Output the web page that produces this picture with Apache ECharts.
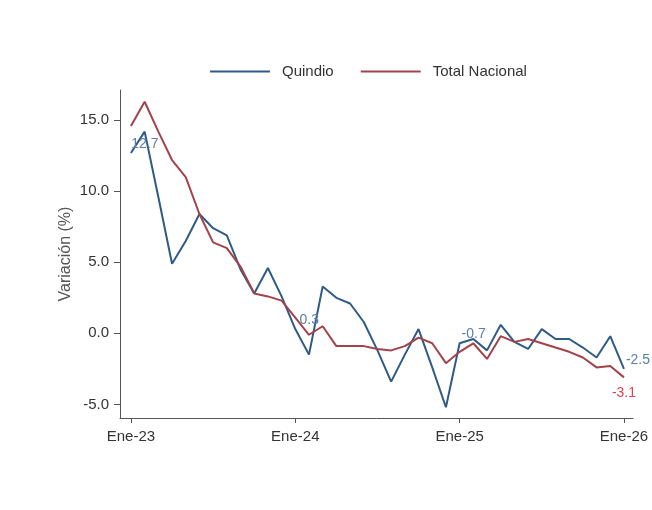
<!DOCTYPE html>
<html>
<head>
<meta charset="utf-8">
<script src="https://cdn.jsdelivr.net/npm/echarts@6/dist/echarts.min.js"></script>
<style>
  html, body { margin: 0; padding: 0; background: #fff; }
  #chart { width: 652px; height: 510px; }
</style>
</head>
<body>
<div id="chart"></div>
<script>
// meses Ene-23 .. Ene-26 (37 puntos)
var tickPos = [0, 12, 24, 36];
var tickLabels = ['Ene-23', 'Ene-24', 'Ene-25', 'Ene-26'];
var yTicks = [-5, 0, 5, 10, 15];

var quindio = [12.7, 14.2, 9.6, 4.9, 6.5, 8.4, 7.4, 6.9, 4.5, 2.8, 4.6, 2.6,
               0.3, -1.5, 3.3, 2.5, 2.1, 0.8, -1.2, -3.4, -1.5, 0.3, -2.4, -5.2,
               -0.7, -0.4, -1.2, 0.6, -0.6, -1.1, 0.3, -0.4, -0.4, -1.0, -1.7, -0.2,
               -2.5];
var nacional = [14.6, 16.3, 14.2, 12.2, 11.0, 8.4, 6.4, 6.0, 4.7, 2.8, 2.6, 2.3,
                1.1, -0.1, 0.5, -0.9, -0.9, -0.9, -1.1, -1.2, -0.9, -0.3, -0.7, -2.1,
                -1.3, -0.7, -1.8, -0.2, -0.6, -0.4, -0.7, -1.0, -1.3, -1.7, -2.4, -2.3,
                -3.1];

var labelsQ = [0, 12, 24, 36];   // puntos con etiqueta (Quindio)
var labelsN = [36];              // puntos con etiqueta (Total)

var colQ = '#2f5b86', colN = '#a3424b';

function toData(arr, marks, lbl) {
  var out = [];
  for (var i = 0; i < arr.length; i++) {
    var d = { value: [i, arr[i]] };
    if (marks.indexOf(i) >= 0) d.label = lbl;
    out.push(d);
  }
  return out;
}

var chart = echarts.init(document.getElementById('chart'));
var axisCol = '#555';
chart.setOption({
  animation: false,
  textStyle: { fontFamily: 'Liberation Sans, Arial, sans-serif' },
  legend: {
    top: 59, left: 205,
    itemWidth: 60, itemHeight: 2, itemGap: 27,
    icon: 'rect',
    textStyle: { fontSize: 15, color: '#333', padding: [0, 0, 0, 7] },
    data: ['Quindio', 'Total Nacional']
  },
  grid: { left: 120, right: 19, top: 90, bottom: 92 },
  xAxis: {
    type: 'value', min: -0.8, max: 36.66,
    splitLine: { show: false },
    axisLine: { onZero: false, lineStyle: { color: axisCol } },
    axisTick: { customValues: tickPos, length: 5, lineStyle: { color: axisCol } },
    axisLabel: {
      customValues: tickPos, color: '#333', fontSize: 15, margin: 11,
      formatter: function (v) { return tickLabels[tickPos.indexOf(Math.round(v))]; }
    }
  },
  yAxis: {
    type: 'value', min: -5.96, max: 17.13,
    name: 'Variación (%)', nameLocation: 'middle', nameGap: 46,
    nameMoveOverlap: false,
    nameTextStyle: { color: '#555', fontSize: 16 },
    splitLine: { show: false },
    axisLine: { show: true, onZero: false, lineStyle: { color: axisCol } },
    axisTick: { show: true, customValues: yTicks, length: 6, lineStyle: { color: axisCol } },
    axisLabel: {
      customValues: yTicks, color: '#333', fontSize: 15, margin: 11,
      formatter: function (v) { return v.toFixed(1); }
    }
  },
  series: [
    {
      name: 'Quindio', type: 'line', symbol: 'circle', symbolSize: 0, showSymbol: true,
      lineStyle: { width: 2, color: colQ }, itemStyle: { color: colQ },
      label: { show: false },
      data: toData(quindio, labelsQ, {
        show: true, position: 'top', offset: [14, 3],
        color: '#5a80aa', fontSize: 14,
        formatter: function (p) { return p.value[1].toFixed(1); }
      })
    },
    {
      name: 'Total Nacional', type: 'line', symbol: 'circle', symbolSize: 0, showSymbol: true,
      lineStyle: { width: 2, color: colN }, itemStyle: { color: colN },
      label: { show: false },
      data: toData(nacional, labelsN, {
        show: true, position: 'bottom', offset: [0, 4],
        color: '#de3f55', fontSize: 14,
        formatter: function (p) { return p.value[1].toFixed(1); }
      })
    }
  ]
});
</script>
</body>
</html>
